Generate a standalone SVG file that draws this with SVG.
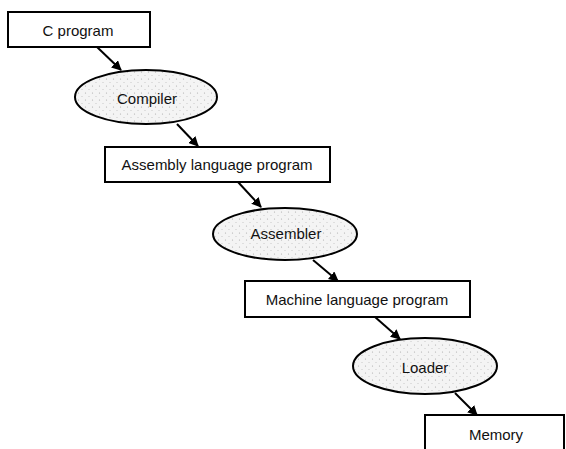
<svg xmlns="http://www.w3.org/2000/svg" width="566" height="449" viewBox="0 0 566 449">
<style>
.box{fill:#fff;stroke:#000;stroke-width:2}
.ell{fill:url(#dots);stroke:#000;stroke-width:2}
.lbl{font-family:"Liberation Sans",Arial,sans-serif;font-size:15px;fill:#111;text-anchor:middle;dominant-baseline:central}
.edge{stroke:#000;stroke-width:2;fill:none;marker-end:url(#arr)}
</style>
<defs>
<pattern id="dots" width="7" height="7" patternUnits="userSpaceOnUse">
<rect width="7" height="7" fill="#f4f4f4"/>
<circle cx="1.5" cy="2" r="0.6" fill="#aaa"/>
<circle cx="5" cy="5.5" r="0.5" fill="#bbb"/>
</pattern>
<marker id="arr" viewBox="0 0 10 10" refX="9" refY="5" markerWidth="5" markerHeight="5" orient="auto" markerUnits="strokeWidth">
<path d="M0,0 L10,5 L0,10 z" fill="#000"/>
</marker>
</defs>
<rect width="566" height="449" fill="#fff"/>
<g id="connectors">
<line class="edge" x1="97" y1="47" x2="121" y2="70"/>
<line class="edge" x1="177" y1="124" x2="198" y2="146"/>
<line class="edge" x1="238" y1="182" x2="261" y2="207"/>
<line class="edge" x1="313" y1="260" x2="338" y2="281"/>
<line class="edge" x1="375" y1="317" x2="400" y2="339"/>
<line class="edge" x1="455" y1="393" x2="477" y2="415"/>
</g>
<g id="c-program">
<rect class="box" x="8" y="12" width="142" height="35"/>
<text class="lbl" x="78" y="30">C program</text>
</g>
<g id="compiler">
<ellipse class="ell" cx="146" cy="97" rx="71" ry="27"/>
<text class="lbl" x="147" y="98">Compiler</text>
</g>
<g id="assembly">
<rect class="box" x="105" y="147" width="225" height="35"/>
<text class="lbl" x="217" y="164">Assembly language program</text>
</g>
<g id="assembler">
<ellipse class="ell" cx="285" cy="234" rx="72" ry="26"/>
<text class="lbl" x="286" y="233">Assembler</text>
</g>
<g id="machine">
<rect class="box" x="245" y="281" width="225" height="36"/>
<text class="lbl" x="357" y="299">Machine language program</text>
</g>
<g id="loader">
<ellipse class="ell" cx="425" cy="366" rx="72" ry="28"/>
<text class="lbl" x="425" y="367">Loader</text>
</g>
<g id="memory">
<rect class="box" x="425" y="415" width="139" height="40"/>
<text class="lbl" x="496" y="434">Memory</text>
</g>
</svg>
